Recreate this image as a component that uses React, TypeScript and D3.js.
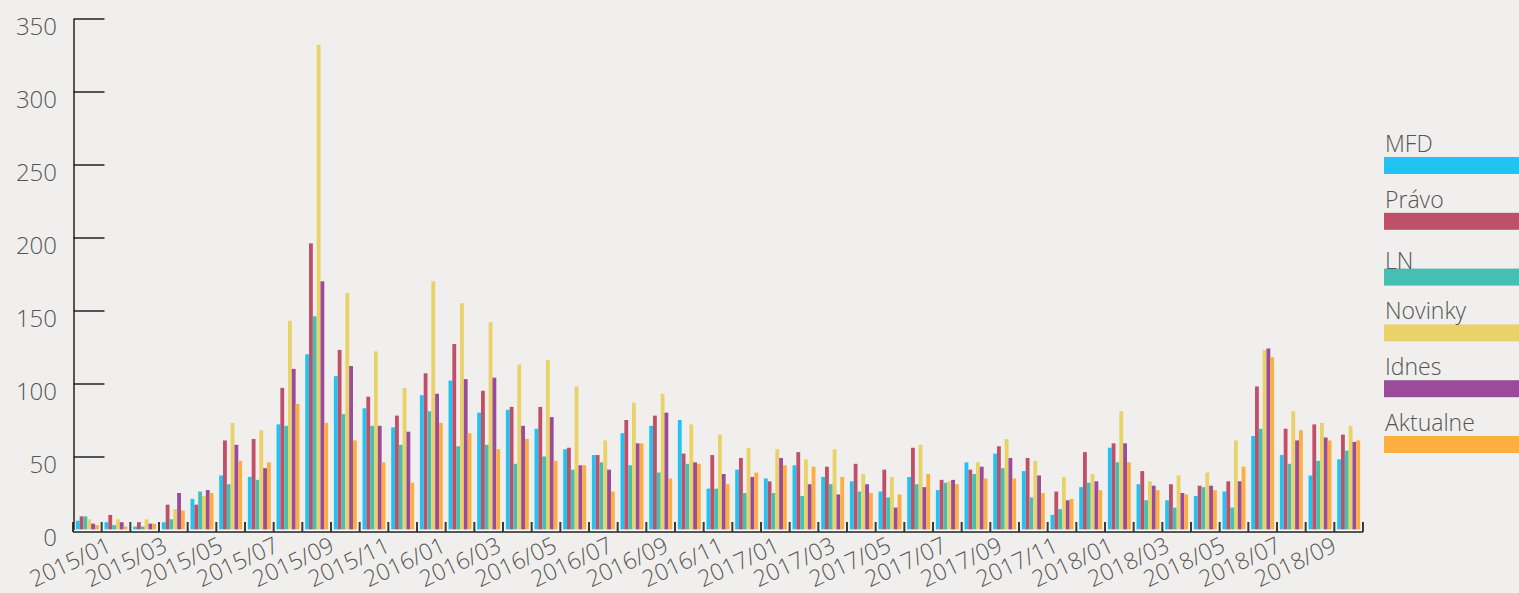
import React, { useRef, useEffect } from 'react'
import * as d3 from 'd3'

const months = [
  '2015/01', '2015/02', '2015/03', '2015/04', '2015/05', '2015/06', '2015/07', '2015/08', '2015/09', '2015/10', '2015/11', '2015/12',
  '2016/01', '2016/02', '2016/03', '2016/04', '2016/05', '2016/06', '2016/07', '2016/08', '2016/09', '2016/10', '2016/11', '2016/12',
  '2017/01', '2017/02', '2017/03', '2017/04', '2017/05', '2017/06', '2017/07', '2017/08', '2017/09', '2017/10', '2017/11', '2017/12',
  '2018/01', '2018/02', '2018/03', '2018/04', '2018/05', '2018/06', '2018/07', '2018/08', '2018/09',
]

const tickLabels = [
  '2015/01', '2015/03', '2015/05', '2015/07', '2015/09', '2015/11', '2016/01', '2016/03', '2016/05', '2016/07', '2016/09', '2016/11',
  '2017/01', '2017/03', '2017/05', '2017/07', '2017/09', '2017/11', '2018/01', '2018/03', '2018/05', '2018/07', '2018/09',
]

const yTicks = [0, 50, 100, 150, 200, 250, 300, 350]

const series = ['MFD', 'Právo', 'LN', 'Novinky', 'Idnes', 'Aktualne']
const colors = ['#21c3f3', '#c05067', '#45bfb4', '#e9d268', '#9b4b9b', '#fcaf41']

const mfd = [6, 5, 2, 5, 21, 37, 36, 72, 120, 105, 83, 70, 92, 102, 80, 82, 69, 55, 51, 66, 71, 75, 28, 41, 35, 44, 36, 33, 26, 36, 27, 46, 52, 40, 10, 29, 56, 31, 20, 23, 26, 64, 51, 37, 48]
const pravo = [9, 10, 5, 17, 17, 61, 62, 97, 196, 123, 91, 78, 107, 127, 95, 84, 84, 56, 51, 75, 78, 52, 51, 49, 33, 53, 43, 45, 41, 56, 34, 41, 57, 49, 26, 53, 59, 40, 31, 30, 33, 98, 69, 72, 65]
const ln = [9, 3, 2, 7, 26, 31, 34, 71, 146, 79, 71, 58, 81, 57, 58, 45, 50, 41, 46, 44, 39, 45, 28, 25, 25, 23, 31, 26, 22, 31, 32, 38, 42, 22, 14, 32, 46, 20, 15, 29, 15, 69, 45, 47, 54]
const novinky = [7, 7, 7, 14, 23, 73, 68, 143, 332, 162, 122, 97, 170, 155, 142, 113, 116, 98, 61, 87, 93, 72, 65, 56, 55, 48, 55, 38, 36, 58, 33, 46, 62, 47, 36, 38, 81, 33, 37, 39, 61, 123, 81, 73, 71]
const idnes = [4, 5, 4, 25, 27, 58, 42, 110, 170, 112, 71, 67, 93, 103, 104, 71, 77, 44, 41, 59, 80, 46, 38, 36, 49, 31, 24, 31, 15, 29, 34, 43, 49, 37, 20, 33, 59, 30, 25, 30, 33, 124, 61, 63, 60]
const aktualne = [3, 2, 4, 13, 25, 47, 46, 86, 73, 61, 46, 32, 73, 66, 55, 62, 47, 44, 26, 59, 35, 45, 31, 39, 44, 43, 36, 25, 24, 38, 31, 35, 35, 25, 21, 27, 46, 27, 24, 27, 43, 118, 68, 61, 61]

const values = [mfd, pravo, ln, novinky, idnes, aktualne]

const App = () => {
  const ref = useRef<SVGSVGElement>(null)

  useEffect(() => {
    const w = 1519
    const h = 593
    const font = "'Open Sans', 'DejaVu Sans', sans-serif"
    const textColor = '#555'

    const svg = d3.select(ref.current)
    svg.selectAll('*').remove()
    svg.attr('width', w).attr('height', h)
      .style('background', '#f0efed')
      .style('display', 'block')

    // scales
    const x0 = d3.scaleBand<string>().domain(months).range([73, 1363]).paddingInner(0.2).paddingOuter(0.1)
    const x1 = d3.scaleBand<string>().domain(series).range([0, x0.bandwidth()])
    const y = d3.scaleLinear().domain([0, 350]).range([529.5, 18.5])
    const xl = d3.scalePoint<string>().domain(tickLabels).range([113, 1338])
    const legendY = d3.scalePoint<string>().domain(series).range([157, 436])

    // bars
    const groups = svg.append('g').selectAll('g')
      .data(months)
      .join('g')
      .attr('transform', m => `translate(${x0(m)},0)`)

    groups.selectAll('rect')
      .data((m, i) => series.map((s, k) => ({ s, k, v: values[k][i] })))
      .join('rect')
      .attr('x', d => x1(d.s)!)
      .attr('y', d => y(d.v))
      .attr('width', x1.bandwidth())
      .attr('height', d => y(0) - y(d.v))
      .attr('fill', d => colors[d.k])

    // light baseline under bars
    svg.append('line')
      .attr('x1', 73).attr('x2', 1363)
      .attr('y1', 530.5).attr('y2', 530.5)
      .attr('stroke', '#fafafa').attr('stroke-width', 1.5)

    // x axis
    svg.append('line')
      .attr('x1', 73).attr('x2', 1363)
      .attr('y1', 532).attr('y2', 532)
      .attr('stroke', '#222').attr('stroke-width', 1.5)

    const step = x0.step()
    svg.append('g').selectAll('line')
      .data(months.concat(['end']))
      .join('line')
      .attr('x1', (m, i) => 73 + i * step)
      .attr('x2', (m, i) => 73 + i * step)
      .attr('y1', 522).attr('y2', 532)
      .attr('stroke', '#3a3a3a').attr('stroke-width', 2)

    svg.append('g').selectAll('text')
      .data(tickLabels)
      .join('text')
      .attr('transform', d => `translate(${xl(d)},551) rotate(-25)`)
      .attr('text-anchor', 'end')
      .style('font-family', font)
      .style('font-weight', 300)
      .style('font-size', '23px')
      .style('fill', textColor)
      .text(d => d)

    // y axis
    const yAxis = d3.axisRight(y)
      .tickValues(yTicks.filter(v => v > 0))
      .tickSize(31)
      .tickSizeOuter(0)
      .tickFormat(() => '')
    const ya = svg.append('g')
      .attr('transform', 'translate(73.5,0)')
      .call(yAxis)
    ya.select('.domain').attr('stroke', '#222').attr('stroke-width', 1.5)
    ya.selectAll('.tick line').attr('stroke', '#222').attr('stroke-width', 1.5)

    svg.append('g').selectAll('text')
      .data(yTicks)
      .join('text')
      .attr('x', 57)
      .attr('y', d => y(d) + 16)
      .attr('text-anchor', 'end')
      .style('font-family', font)
      .style('font-weight', 300)
      .style('font-size', '24px')
      .style('fill', textColor)
      .text(d => d)

    // legend
    const leg = svg.append('g').selectAll('g')
      .data(series)
      .join('g')
      .attr('transform', d => `translate(1384,${legendY(d)})`)

    leg.append('rect')
      .attr('width', w - 1384)
      .attr('height', 17)
      .attr('fill', (d, i) => colors[i])

    leg.append('text')
      .attr('x', 1)
      .attr('y', d => (d === 'LN' ? 0 : -5))
      .style('font-family', font)
      .style('font-weight', 300)
      .style('font-size', '23px')
      .style('fill', textColor)
      .text(d => d)
  }, [])

  return (
    <div style={{ position: 'absolute', left: 0, top: 0 }}>
      <svg ref={ref}></svg>
    </div>
  )
}

export default App
